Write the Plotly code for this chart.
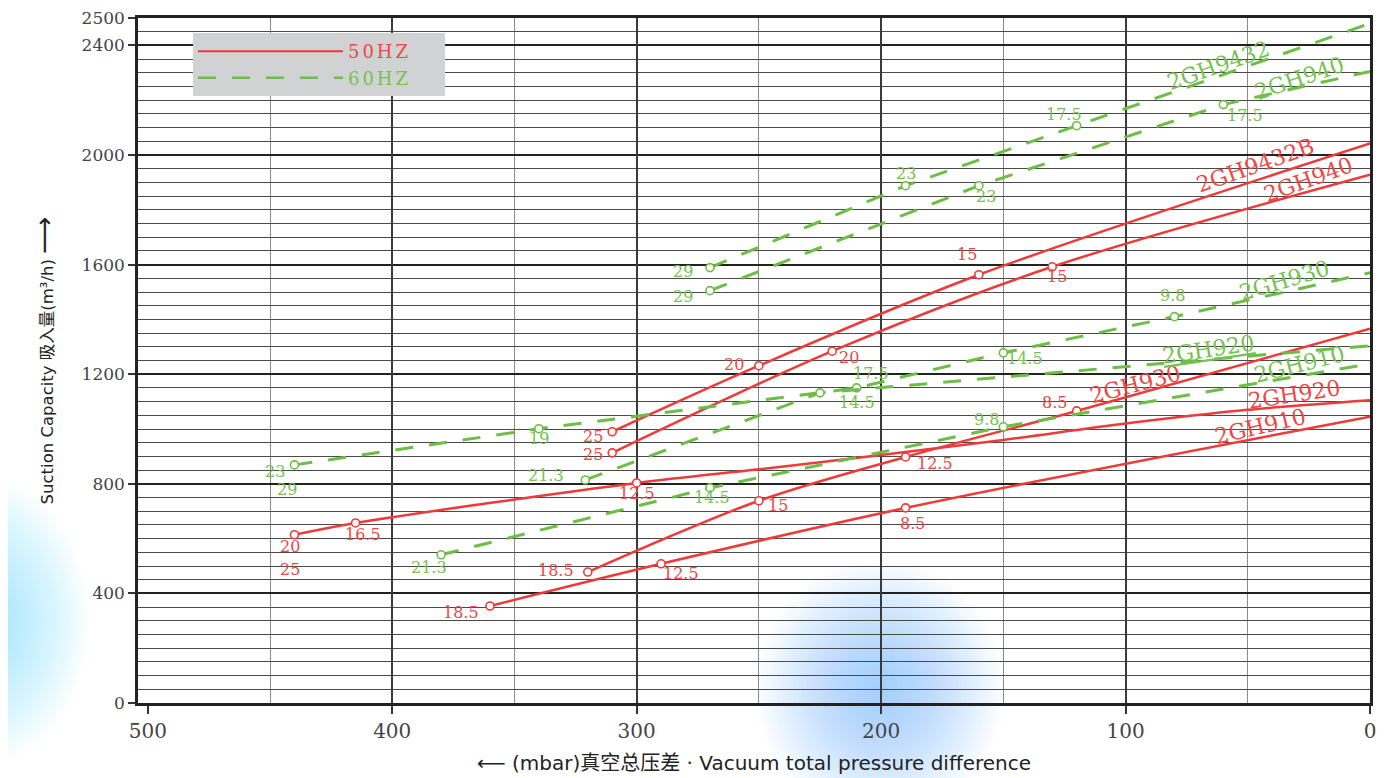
import plotly.graph_objects as go

# ---------------- data ----------------
# 50 Hz curves: vacuum total pressure difference (mbar) vs suction capacity (m3/h)
r9432b_x = [310, 250, 160, 0]
r9432b_y = [990, 1231, 1563, 2042]
r940_x = [310, 220, 130, 0]
r940_y = [913, 1284, 1592, 1928]
r930_x = [320, 250, 190, 120, 0]
r930_y = [478, 738, 898, 1066, 1366]
r920_x = [440, 415, 300, 250, 200, 150, 100, 50, 0]
r920_y = [614, 657, 803, 853, 905, 960, 1020, 1070, 1105]
r910_x = [360, 290, 190, 0]
r910_y = [354, 508, 712, 1045]

# 60 Hz curves
g9432_x = [270, 190, 120, 0]
g9432_y = [1589, 1888, 2107, 2480]
g940_x = [270, 160, 60, 0]
g940_y = [1505, 1888, 2184, 2305]
g930_x = [440, 340, 210, 150, 80, 0]
g930_y = [869, 1001, 1150, 1278, 1410, 1570]
g920_x = [321, 225, 0]
g920_y = [814, 1132, 1304]
g910_x = [380, 270, 150, 0]
g910_y = [541, 785, 1008, 1238]

# number of leading points that carry an open circle
circles = {"r9432b": 3, "r940": 3, "r930": 4, "r920": 3, "r910": 3,
           "g9432": 3, "g940": 3, "g930": 5, "g920": 2, "g910": 3}

x_ticks = [500, 400, 300, 200, 100, 0]
y_ticks = [0, 400, 800, 1200, 1600, 2000, 2400, 2500]

# point labels (text, x, y)
red_labels = [("25", 318, 972), ("25", 318, 906), ("20", 260, 1236), ("20", 213, 1262),
              ("15", 165, 1636), ("15", 128, 1556), ("12.5", 300, 763), ("12.5", 178, 873),
              ("15", 242, 720), ("8.5", 187, 654), ("8.5", 129, 1096), ("18.5", 333, 482),
              ("18.5", 372, 332), ("12.5", 282, 471), ("20", 442, 570), ("25", 442, 486),
              ("16.5", 412, 614)]
green_labels = [("17.5", 125, 2148), ("17.5", 51, 2144), ("23", 190, 1932), ("23", 157, 1848),
                ("29", 281, 1574), ("29", 281, 1483), ("9.8", 81, 1487), ("14.5", 141, 1256),
                ("17.5", 204, 1202), ("14.5", 210, 1097), ("19", 340, 964), ("21.3", 337, 829),
                ("21.3", 385, 493), ("14.5", 269, 749), ("9.8", 157, 1034), ("23", 448, 846),
                ("29", 443, 780)]
# model labels (text, x, y, angle)
red_models = [("2GH9432B", 47, 1961, -19.3), ("2GH940", 25, 1910, -20),
              ("2GH930", 96, 1161, -14.7), ("2GH920", 31, 1125, -8.5),
              ("2GH910", 45, 1008, -13)]
green_models = [("2GH9432", 62, 2327, -19.4), ("2GH940", 29, 2279, -18.6),
                ("2GH930", 35, 1541, -16.4), ("<u>2GH920</u>", 66, 1289, -8.5),
                ("2GH910", 29, 1235, -14)]

# ---------------- styles ----------------
RED = "#ee3a39"
RED_TXT = "#ef4744"
GREEN = "#6cbe45"
GREEN_TXT = "#74c350"
SERIF = "DejaVu Serif, Liberation Serif, serif"
SANS = "DejaVu Sans, Liberation Sans, Noto Sans CJK SC, sans-serif"
DASH = "18px,16px"

fig = go.Figure()

curves = [
    ("r9432b", r9432b_x, r9432b_y, "50"), ("r940", r940_x, r940_y, "50"),
    ("r930", r930_x, r930_y, "50"), ("r920", r920_x, r920_y, "50"),
    ("r910", r910_x, r910_y, "50"),
    ("g9432", g9432_x, g9432_y, "60"), ("g940", g940_x, g940_y, "60"),
    ("g930", g930_x, g930_y, "60"), ("g920", g920_x, g920_y, "60"),
    ("g910", g910_x, g910_y, "60"),
]

for key, xs, ys, hz in curves:
    if hz == "50":
        line = dict(color=RED, width=2.5, shape="spline", smoothing=0.9)
        mcol = RED
    else:
        line = dict(color=GREEN, width=3, dash=DASH)
        mcol = GREEN
    fig.add_trace(go.Scatter(x=xs, y=ys, mode="lines", line=line,
                             showlegend=False, hoverinfo="skip"))
    n = circles[key]
    fig.add_trace(go.Scatter(x=xs[:n], y=ys[:n], mode="markers",
                             marker=dict(symbol="circle", size=8, color="white",
                                         line=dict(color=mcol, width=1.6)),
                             showlegend=False, hoverinfo="skip"))

# legend entries (trailing spaces only widen the grey box)
LS = "letter-spacing:3px"
PAD = "&nbsp;" * 5
fig.add_trace(go.Scatter(x=[None], y=[None], mode="lines",
                         line=dict(color=RED, width=2),
                         name=f"<span style='color:{RED_TXT};{LS}'>50HZ</span>{PAD}",
                         legendgroup="a"))
fig.add_trace(go.Scatter(x=[None], y=[None], mode="lines",
                         line=dict(color=GREEN, width=2.5, dash=DASH),
                         name=f"<span style='color:{GREEN_TXT};{LS}'>60HZ</span>{PAD}",
                         legendgroup="b"))
# invisible trace for the overlay grid axis
fig.add_trace(go.Scatter(x=[None], y=[None], xaxis="x2", showlegend=False,
                         hoverinfo="skip"))

annotations = []
for t, x, y in red_labels:
    annotations.append(dict(x=x, y=y, text=t, showarrow=False,
                            font=dict(family=SERIF, size=16, color=RED_TXT)))
for t, x, y in green_labels:
    annotations.append(dict(x=x, y=y, text=t, showarrow=False,
                            font=dict(family=SERIF, size=16, color=GREEN_TXT)))
for t, x, y, a in red_models:
    annotations.append(dict(x=x, y=y, text=t, showarrow=False, textangle=a,
                            font=dict(family=SERIF, size=22, color=RED_TXT)))
for t, x, y, a in green_models:
    annotations.append(dict(x=x, y=y, text=t, showarrow=False, textangle=a,
                            font=dict(family=SERIF, size=22, color=GREEN_TXT)))

# soft blue decorative blobs (approximated radial gradient)
shapes = []
def blob(cx, cy, rx, ry, steps=30, alpha=0.035, rgb="110,195,240"):
    for i in range(steps):
        f = 1 - i / steps
        shapes.append(dict(type="circle", xref="paper", yref="paper",
                           x0=cx - rx * f, x1=cx + rx * f,
                           y0=cy - ry * f, y1=cy + ry * f,
                           fillcolor=f"rgba({rgb},{alpha})",
                           line=dict(width=0), layer="below"))
blob(0.6023, 0.019, 0.10, 0.19, alpha=0.026, rgb="95,190,242")
blob(-0.13, 0.12, 0.09, 0.21, alpha=0.026, rgb="120,205,242")

# the page body adds an 8 px offset, so the figure is 8 px smaller
fig.update_layout(
    width=1389, height=770,
    margin=dict(l=130, r=27, t=10, b=75, autoexpand=False),
    paper_bgcolor="white", plot_bgcolor="rgba(0,0,0,0)",
    annotations=annotations, shapes=shapes,
    showlegend=True,
    legend=dict(x=0.0446, y=0.978, xanchor="left", yanchor="top",
                bgcolor="#d1d2d4", borderwidth=0, itemwidth=145,
                tracegroupgap=6, font=dict(family=SERIF, size=18),
                traceorder="normal"),
    xaxis=dict(range=[504, 0], tickvals=x_ticks, ticks="outside", ticklen=8,
               tickwidth=1.5, tickcolor="#333", showgrid=False, automargin=False,
               ticklabeloverflow="allow",
               minor=dict(tickvals=[450, 350, 250, 150, 50], showgrid=True,
                          gridcolor="#8a8a8a", gridwidth=1, ticks=""),
               showline=True, linecolor="#222", linewidth=2.5, mirror=True,
               zeroline=False,
               tickfont=dict(family=SERIF, size=20, color="#444"),
               title=dict(text="⟵ (mbar)真空总压差 · Vacuum total pressure difference",
                          font=dict(family=SANS, size=20, color="#222"),
                          standoff=15)),
    xaxis2=dict(range=[504, 0], overlaying="x", matches="x", automargin=False,
                tickvals=[400, 300, 200, 100], showgrid=True, gridcolor="#3a3a3a",
                gridwidth=1.5, showticklabels=False, ticks="", showline=False,
                zeroline=False),
    yaxis=dict(range=[0, 2500], tickvals=y_ticks, ticks="outside", ticklen=7,
               tickwidth=1.5, tickcolor="#333", showgrid=True, gridcolor="#222",
               gridwidth=1.8, automargin=False, ticklabeloverflow="allow",
               minor=dict(dtick=50, tick0=0, showgrid=True, gridcolor="#4a4a4a",
                          gridwidth=1.1, ticks=""),
               showline=True, linecolor="#222", linewidth=2.5, mirror=True,
               zeroline=False,
               tickfont=dict(family=SERIF, size=17, color="#444"),
               title=dict(text="Suction Capacity 吸入量(m³/h) <span style='font-size:26px'>⟶</span>",
                          font=dict(family=SANS, size=16.5, color="#222"),
                          standoff=24)),
)

fig.write_html("out.html")
